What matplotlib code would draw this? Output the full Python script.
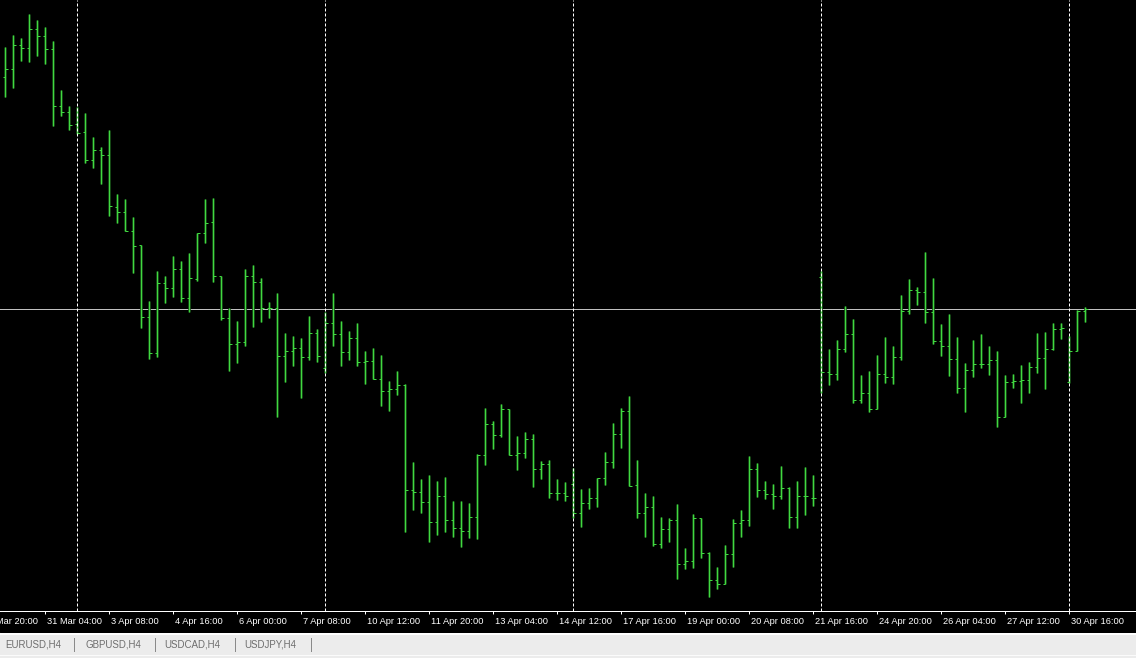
import matplotlib
matplotlib.use("Agg")
import matplotlib.pyplot as plt
import numpy as np
from matplotlib import font_manager
from matplotlib.lines import Line2D
from matplotlib.patches import Rectangle

# H4 bars (price in chart points, higher = higher price)
opens = [522.7, 530.7, 554.7, 551.7, 570.7, 563.7, 550.7, 493.7, 487.7, 475.7,
         467.7, 440.3, 449.7, 444.7, 392.7, 387.7, 369.3, 355, 282.7, 246.7,
         316.7, 311.7, 330.7, 301.7, 320.7, 367.3, 377.7, 324, 281.7, 255.7,
         258.3, 323.7, 318, 291.7, 291.7, 243.7, 248.7, 251.7, 242.7, 266.7,
         231.7, 276.7, 266, 248, 261.7, 237.7, 238.7, 220.7, 208.7, 210.7,
         215.3, 109.7, 108, 98, 77.7, 103.7, 80, 71.7, 69, 82.7,
         145.3, 176, 165, 191, 145, 146.7, 160.7, 131, 135.7, 106.7,
         106.7, 115.7, 86.7, 97.3, 101.7, 122.3, 137.7, 166, 188.7, 115.3,
         86.7, 93, 55.7, 70.7, 80, 36, 38.7, 82.3, 46.7, 20,
         16, 46, 76.7, 80, 130.7, 110, 105.7, 104, 112.3, 83,
         103.7, 101.7, 322.7, 227.7, 225.7, 251, 265.7, 200, 206.7, 191,
         225.7, 223.3, 242.7, 289.3, 310, 307.7, 288.3, 259, 254, 241,
         212, 230, 235.7, 235.7, 240, 182.7, 217.7, 219, 220, 232.7,
         242, 251, 271.3, 217.7, 249, 289.3]
highs = [552.7, 565, 561.7, 585.7, 580, 572.7, 558.7, 510, 494, 492.7,
         486.7, 463, 453, 470.3, 406, 401, 383, 355, 299.3, 329.3,
         323.7, 344, 339, 347, 367.3, 401, 402, 324, 291.7, 279,
         330.7, 334.7, 321.7, 298, 307.3, 267.3, 264, 262, 284, 270.7,
         288.3, 307.3, 278.7, 269, 277, 249, 252, 245.3, 218.7, 229.3,
         216, 138, 120.7, 125, 119, 123, 99, 99, 97, 146,
         192.3, 178.7, 196, 191, 164.3, 168, 166, 139, 140, 121,
         118, 131.7, 111, 111.7, 122.3, 148, 176.7, 191.7, 204, 140,
         106.7, 103.7, 83.3, 81.7, 96, 51.7, 85.7, 82.3, 47.7, 32.7,
         55.3, 80.7, 90, 144, 136.7, 119, 116, 134, 113.3, 119,
         132.7, 125, 329.3, 251.3, 260, 294.3, 281, 225.3, 229.3, 245,
         263.3, 254, 305, 321, 313.3, 348, 322, 276, 286, 263.3,
         237.3, 260.3, 266, 254, 249, 225, 226, 235, 238, 267,
         268.3, 276.7, 277.3, 264, 290, 293.3]
lows = [503.3, 512.3, 539.3, 538.3, 544.3, 535.7, 474.3, 484.3, 469.7, 466,
        437.3, 432.3, 416.3, 384, 377.3, 369.3, 326.7, 272.3, 240.7, 242.7,
        296.7, 303.3, 298.3, 288.3, 318.7, 356.7, 318.3, 280, 229.3, 237.3,
        254.3, 273.3, 278.3, 282.3, 183, 218.3, 234, 202.3, 240, 238.3,
        226.7, 254.3, 234.3, 240, 234.3, 216.3, 220.7, 194, 189.3, 205.3,
        68, 90, 86.7, 58, 65, 68, 63.3, 53.3, 62, 60.7,
        134.7, 150.7, 162.7, 145, 130, 141.7, 112.7, 121, 101.7, 100,
        98.7, 81.7, 73.3, 90.7, 93.3, 115.3, 132, 151.7, 114, 81.7,
        62.7, 54.3, 51.7, 58.3, 21, 30.7, 31.7, 41.7, 3.3, 10.7,
        16, 32.7, 62.7, 74.3, 103.3, 100.7, 90.7, 101, 71.7, 71.7,
        85.3, 94, 207.3, 215, 220, 248.3, 196.7, 196.7, 188.3, 191,
        217.3, 216, 240, 286.3, 295, 276.7, 255.7, 244.3, 224.3, 207.3,
        188.3, 222.7, 231.7, 225.3, 173.3, 182.7, 212.3, 196.7, 206.7, 227.3,
        210.7, 250, 260.7, 217.3, 249, 278]
closes = [530.7, 554.7, 551.7, 570.7, 563.7, 550.7, 493.7, 487.7, 475, 467.3,
          440.3, 449.7, 444.7, 393.7, 387.7, 369.3, 353.7, 282.7, 246.7, 316.7,
          311.7, 330.7, 301.7, 321.7, 367.3, 376.7, 324, 281.7, 255.7, 258.3,
          323.7, 318, 291.7, 291.7, 243.7, 248.7, 251.7, 242.7, 266.7, 243.7,
          276.7, 266, 248, 261.7, 237.7, 238.7, 220.7, 208.7, 210.7, 215.3,
          109.7, 108, 98, 77.7, 103.7, 80, 71.7, 69, 82.7, 145.3,
          176, 165, 191, 145, 146.7, 160.7, 131, 135.7, 106.7, 106.7,
          104, 86.7, 97.3, 101.7, 122.3, 137.7, 166, 188.7, 114.3, 86.7,
          93, 55.7, 70.7, 80, 36, 38.7, 82.3, 46.7, 20, 16,
          46, 76.7, 80, 130.7, 110, 105.7, 104, 112.3, 83, 103.7,
          103.7, 102.3, 227.7, 225.7, 251, 265.7, 200, 206.7, 191, 225.7,
          223.3, 242.7, 289.3, 310, 307.7, 288.3, 259, 254, 241, 212,
          230, 235.7, 235.7, 240, 182.7, 217.7, 219, 220, 232.7, 242,
          251, 271.3, 272, 249, 289.3, 290.7]
bid = 290.7

time_labels = ["30 Mar 20:00", "31 Mar 04:00", "3 Apr 08:00", "4 Apr 16:00",
               "6 Apr 00:00", "7 Apr 08:00", "10 Apr 12:00", "11 Apr 20:00",
               "13 Apr 04:00", "14 Apr 12:00", "17 Apr 16:00", "19 Apr 00:00",
               "20 Apr 08:00", "21 Apr 16:00", "24 Apr 20:00", "26 Apr 04:00",
               "27 Apr 12:00", "30 Apr 16:00"]
label_bars = list(range(-3, 134, 8))
separator_bars = [9, 40, 71, 102, 133]
tabs = ["EURUSD,H4", "GBPUSD,H4", "USDCAD,H4", "USDJPY,H4"]

W, H = 1136, 658
PX = 72 / 100  # one pixel in points
green = "#40d840"
glow = "#1b5a1b"

names = {f.name for f in font_manager.fontManager.ttflist}
if "Liberation Sans Narrow" in names:
    font, fs_axis, fs_tab = "Liberation Sans Narrow", 7.6, 8.3
else:
    font, fs_axis, fs_tab = "Liberation Sans", 6.7, 7.0
plt.rcParams["font.family"] = [font, "DejaVu Sans"]

fig = plt.figure(figsize=(W / 100, H / 100), dpi=100)
fig.patch.set_facecolor("#ececec")
fig.add_artist(Rectangle((0, 1 - 632 / H), 1, 632 / H, transform=fig.transFigure,
                         color="black", zorder=0))
fig.add_artist(Line2D([0, 1], [1 - 633.5 / H] * 2, color="white", lw=2 * PX))
fig.add_artist(Line2D([0, 1], [1 - 654.5 / H] * 2, color="#fbfbfb", lw=PX))

ax = fig.add_axes([0, 1 - 611 / H, 1, 611 / H])
ax.set_facecolor("black")

x = np.arange(len(opens))
tw = 0.3
# soft dark-green halo under the 1px bars, like the screenshot's smearing
ax.vlines(x, lows, highs, colors=glow, lw=2.6 * PX, zorder=2.5)
ax.vlines(x, lows, highs, colors=green, lw=PX, snap=True, zorder=3)
ax.hlines(opens, x - tw, x, colors=green, lw=PX, snap=True, zorder=3)
ax.hlines(closes, x, x + tw, colors=green, lw=PX, snap=True, zorder=3)

ax.axhline(bid, color="#c0c0c0", lw=PX, zorder=2)
for b in separator_bars:
    ax.axvline(b, color="white", lw=PX, dashes=(3, 2), zorder=4)

for s in ["top", "left", "right"]:
    ax.spines[s].set_visible(False)
ax.spines["bottom"].set_color("white")
ax.spines["bottom"].set_linewidth(PX)
ax.set_yticks([])
ax.set_xticks(label_bars)
ax.tick_params(axis="x", direction="out", length=3 * PX, width=PX, color="white",
               labelbottom=False)
# limits after the ticks, so the off-screen first tick does not widen the view
ax.set_xlim(-0.667, 141.33)
ax.set_ylim(-11, 600)

for b, lab in zip(label_bars, time_labels):
    ax.annotate(lab, xy=(b, 0), xycoords=("data", "axes fraction"),
                xytext=(1.2 * PX, -13.5 * PX), textcoords="offset points",
                ha="left", va="baseline", color="white", fontsize=fs_axis,
                annotation_clip=False)

# symbol tabs at the bottom
tab_x = [5, 85.7, 164.7, 244.3]
sep_x = [74, 154.7, 235, 310.7]
for tx, name in zip(tab_x, tabs):
    fig.text(tx / W, 1 - 647.5 / H, name, ha="left", va="baseline",
             color="#6e6e6e", fontsize=fs_tab)
for sx in sep_x:
    fig.add_artist(Line2D([sx / W] * 2, [1 - 637.5 / H, 1 - 651 / H],
                          color="#8a8a8a", lw=PX))

fig.savefig("out.png", dpi=100, facecolor=fig.get_facecolor())
